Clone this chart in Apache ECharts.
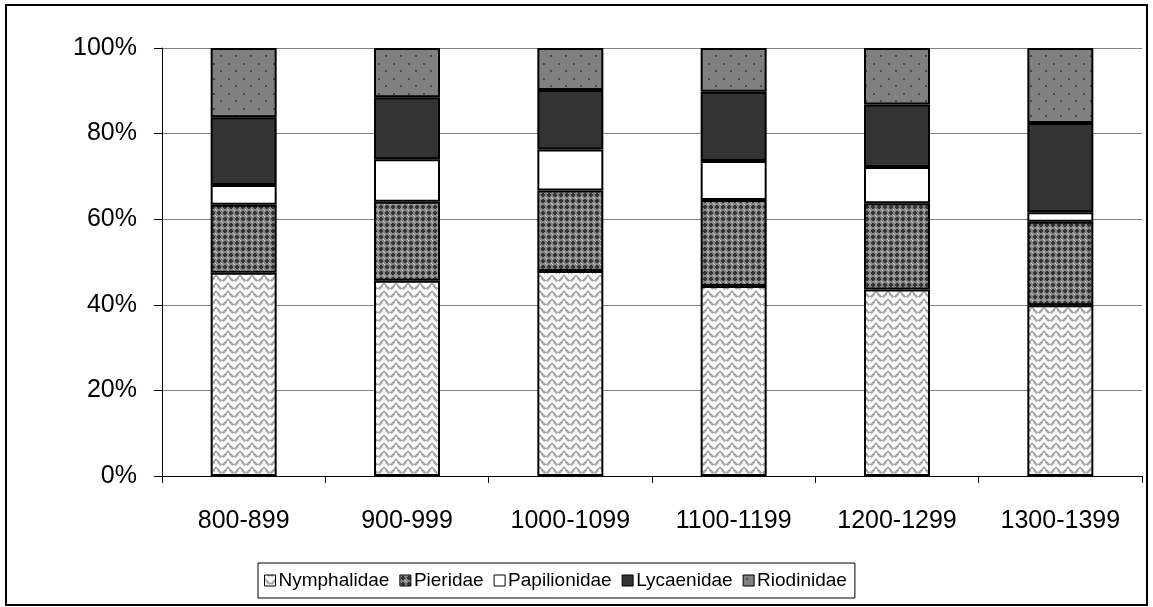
<!DOCTYPE html>
<html>
<head>
<meta charset="utf-8">
<script src="https://cdn.jsdelivr.net/npm/echarts@6/dist/echarts.min.js"></script>
<style>
  html, body { margin: 0; padding: 0; background: #fff; }
  #chart { width: 1153px; height: 607px; }
</style>
</head>
<body>
<div id="chart"></div>
<script>
// Altitude bands (m) and share of each butterfly family, in percent
const categories = ['800-899', '900-999', '1000-1099', '1100-1199', '1200-1299', '1300-1399'];
const nymphalidae  = [47.5, 45.6, 47.9, 44.4, 43.6, 39.9];
const pieridae     = [15.9, 18.5, 18.8, 20.1, 20.1, 19.5];
const papilionidae = [4.6, 9.9, 9.6, 9.1, 8.5, 2.2];
const lycaenidae   = [15.8, 14.5, 13.9, 16.2, 14.6, 20.9];
const riodinidae   = [16.2, 11.5, 9.8, 10.2, 13.2, 17.5];
const yTicks = [0, 20, 40, 60, 80, 100];

// Small repeating fill tiles drawn on canvas
function tile(w, h, draw) {
  const c = document.createElement('canvas');
  c.width = w; c.height = h;
  const ctx = c.getContext('2d');
  draw(ctx, w, h);
  return { image: c, repeat: 'repeat' };
}

// Woven zigzag: white chevron bands on light grey
const weaveFill = tile(12, 8, (ctx, w, h) => {
  ctx.fillStyle = '#a6a6a6';
  ctx.fillRect(0, 0, w, h);
  ctx.strokeStyle = '#ffffff';
  ctx.lineWidth = 3.2;
  for (const dy of [-8, 0, 8]) {
    ctx.beginPath();
    ctx.moveTo(-1, dy - 1);
    ctx.lineTo(6, dy + 6);
    ctx.lineTo(13, dy - 1);
    ctx.stroke();
  }
  ctx.fillStyle = '#ffffff';
  ctx.fillRect(5, 1, 2, 2);
  ctx.fillRect(0, 5, 1, 2);
  ctx.fillRect(11, 5, 1, 2);
});

// Dark crosses on mid grey
const crossFill = tile(6, 6, (ctx, w, h) => {
  ctx.fillStyle = '#858585';
  ctx.fillRect(0, 0, w, h);
  ctx.fillStyle = '#333333';
  ctx.fillRect(2, 1, 2, 4);
  ctx.fillRect(1, 2, 4, 2);
  ctx.fillStyle = '#d0d0d0';
  ctx.fillRect(5, 5, 1, 1);
  ctx.fillRect(0, 0, 1, 1);
});

// Grey with a staggered grid of dark dots
const dotFill = tile(15, 15, (ctx, w, h) => {
  ctx.fillStyle = '#808080';
  ctx.fillRect(0, 0, w, h);
  ctx.fillStyle = '#474747';
  ctx.fillRect(3, 3, 2, 2);
  ctx.fillRect(10, 10, 2, 2);
});

const solidWhite = '#ffffff';
const solidDark = '#333333';

function bar(name, data, fill) {
  return {
    name: name,
    type: 'bar',
    stack: 'total',
    barWidth: 66,
    data: data,
    itemStyle: { color: fill, borderColor: '#000000', borderWidth: 2 },
    emphasis: { disabled: true }
  };
}

const chart = echarts.init(document.getElementById('chart'), null, { renderer: 'canvas' });
chart.setOption({
  animation: false,
  backgroundColor: '#ffffff',
  textStyle: { fontFamily: 'Liberation Sans, Arial, sans-serif' },
  graphic: [{
    type: 'rect',
    shape: { x: 6, y: 5, width: 1141, height: 600 },
    style: { fill: 'none', stroke: '#000000', lineWidth: 2 },
    silent: true
  }],
  grid: { left: 162, top: 48, right: 11, bottom: 131 },
  legend: {
    left: 258,
    top: 563,
    itemWidth: 11,
    itemHeight: 11,
    itemGap: 10,
    padding: [8, 8, 8, 6],
    borderColor: '#000000',
    borderWidth: 1,
    icon: 'rect',
    textStyle: { fontSize: 19, color: '#000000', padding: [0, 0, 0, -2] },
    data: ['Nymphalidae', 'Pieridae', 'Papilionidae', 'Lycaenidae', 'Riodinidae'],
    itemStyle: { borderColor: '#000000', borderWidth: 1 }
  },
  xAxis: {
    type: 'category',
    data: categories,
    axisLine: { lineStyle: { color: '#000000', width: 1 } },
    axisTick: { show: true, length: 7, lineStyle: { color: '#000000' } },
    axisLabel: { fontSize: 25, color: '#000000', margin: 33 }
  },
  yAxis: {
    type: 'value',
    min: yTicks[0],
    max: yTicks[yTicks.length - 1],
    interval: yTicks[1] - yTicks[0],
    axisLine: { show: true, lineStyle: { color: '#000000', width: 1 } },
    axisTick: { show: true, length: 8, lineStyle: { color: '#000000' } },
    axisLabel: { fontSize: 25, color: '#000000', margin: 25, formatter: '{value}%' },
    splitLine: { show: true, lineStyle: { color: '#808080', width: 1 } }
  },
  series: [
    bar('Nymphalidae', nymphalidae, weaveFill),
    bar('Pieridae', pieridae, crossFill),
    bar('Papilionidae', papilionidae, solidWhite),
    bar('Lycaenidae', lycaenidae, solidDark),
    bar('Riodinidae', riodinidae, dotFill)
  ]
});
</script>
</body>
</html>
